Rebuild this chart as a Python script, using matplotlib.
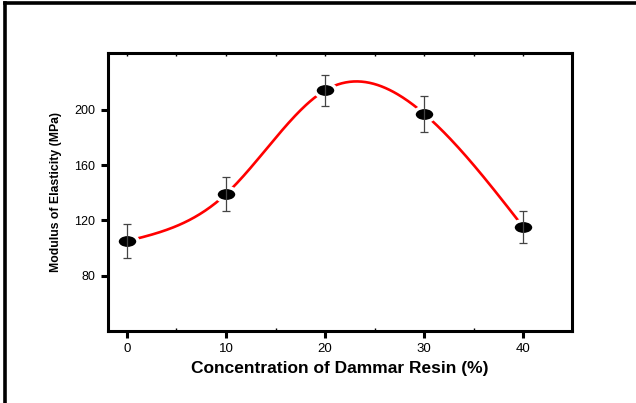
import numpy as np
import matplotlib
matplotlib.use("Agg")
import matplotlib.pyplot as plt
from matplotlib.path import Path
from matplotlib.lines import Line2D

# values
conc = [0, 10, 20, 30, 40]
modulus = [105, 139, 214, 197, 115]
modulus_err = [12, 12.5, 11, 13, 11.5]
xticks = [0, 10, 20, 30, 40]
yticks = [80, 120, 160, 200]


def natural_spline(x, y, n=300):
    # smooth curve through the points (natural cubic spline)
    x = np.asarray(x, float)
    y = np.asarray(y, float)
    k = len(x)
    h = np.diff(x)
    A = np.zeros((k, k))
    b = np.zeros(k)
    A[0, 0] = A[-1, -1] = 1
    for i in range(1, k - 1):
        A[i, i - 1] = h[i - 1]
        A[i, i] = 2 * (h[i - 1] + h[i])
        A[i, i + 1] = h[i]
        b[i] = 6 * ((y[i + 1] - y[i]) / h[i] - (y[i] - y[i - 1]) / h[i - 1])
    m = np.linalg.solve(A, b)
    xs = np.linspace(x[0], x[-1], n)
    idx = np.clip(np.searchsorted(x, xs) - 1, 0, k - 2)
    x0, x1 = x[idx], x[idx + 1]
    hh = x1 - x0
    t0, t1 = x1 - xs, xs - x0
    ys = (m[idx] * t0**3 / (6 * hh) + m[idx + 1] * t1**3 / (6 * hh)
          + (y[idx] / hh - m[idx] * hh / 6) * t0
          + (y[idx + 1] / hh - m[idx + 1] * hh / 6) * t1)
    return xs, ys


def main():
    plt.rcParams['font.family'] = ['Liberation Sans', 'DejaVu Sans']
    fig = plt.figure(figsize=(6.36, 4.03), dpi=100)
    ax = fig.add_axes([0.1698, 0.1787, 0.7296, 0.6898])

    xs, ys = natural_spline(conc, modulus)
    ax.plot(xs, ys, color='red', lw=1.9, zorder=2)

    ellipse = Path.unit_circle()
    ellipse = Path(ellipse.vertices * [1.0, 0.68], ellipse.codes)
    ax.plot(conc, modulus, ls='none', marker=ellipse, ms=15, mfc='black',
            mec='white', mew=2.4, zorder=3)
    ax.errorbar(conc, modulus, yerr=modulus_err, fmt='none', ecolor='#444444',
                elinewidth=0.9, capsize=3, capthick=0.9, zorder=4)

    ax.set_xlim(-1.9, 44.9)
    ax.set_ylim(40, 241)
    ax.set_xticks(xticks)
    ax.set_xticks([5, 15, 25, 35], minor=True)
    ax.set_yticks(yticks)
    ax.tick_params(axis='both', which='major', direction='out', length=5,
                   width=2.2, pad=4)
    ax.tick_params(axis='x', which='major', labelsize=9.5)
    ax.tick_params(axis='y', which='major', labelsize=9)
    ax.tick_params(axis='x', which='minor', direction='in', length=2, width=1)
    ax.tick_params(axis='y', which='minor', left=False)

    # unlabeled ticks along the top edge
    top = ax.secondary_xaxis('top')
    top.set_xticks([0, 5, 10, 15, 20, 25, 30, 35, 40])
    top.tick_params(direction='in', length=2, width=1, labeltop=False)
    top.spines['top'].set_visible(False)

    for s in ax.spines.values():
        s.set_linewidth(2.2)

    ax.set_xlabel('Concentration of Dammar Resin (%)', fontsize=12.5,
                  fontweight='bold', labelpad=4)
    ax.set_ylabel('Modulus of Elasticity (MPa)', fontsize=8.8,
                  fontweight='bold', labelpad=9)

    # border lines across the top and down the left of the picture
    fig.add_artist(Line2D([0.008, 1.0], [0.9925, 0.9925], color='black',
                          lw=2.6, transform=fig.transFigure))
    fig.add_artist(Line2D([0.008, 0.008], [0.0, 0.9925], color='black',
                          lw=2.6, transform=fig.transFigure))

    fig.savefig('out.png', dpi=100)


if __name__ == "__main__":
    main()
